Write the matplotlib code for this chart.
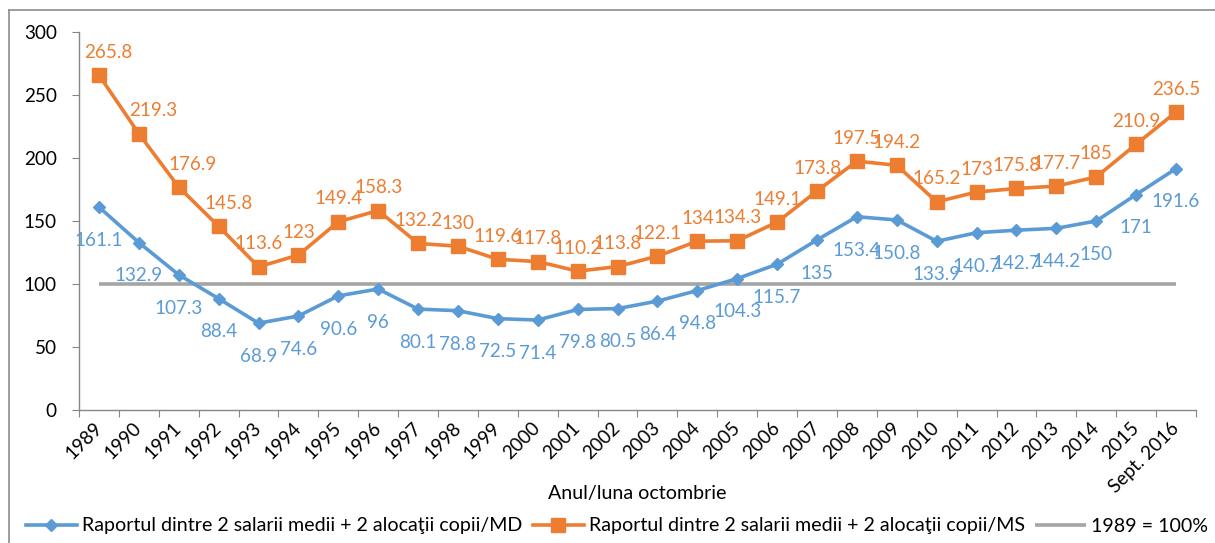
import matplotlib
matplotlib.use("Agg")
import matplotlib.pyplot as plt
from matplotlib.lines import Line2D

plt.rcParams["font.family"] = ["Lato", "DejaVu Sans"]

years = ["1989", "1990", "1991", "1992", "1993", "1994", "1995", "1996", "1997",
         "1998", "1999", "2000", "2001", "2002", "2003", "2004", "2005", "2006",
         "2007", "2008", "2009", "2010", "2011", "2012", "2013", "2014", "2015",
         "Sept. 2016"]

ratio_md = [161.1, 132.9, 107.3, 88.4, 68.9, 74.6, 90.6, 96, 80.1, 78.8, 72.5,
            71.4, 79.8, 80.5, 86.4, 94.8, 104.3, 115.7, 135, 153.4, 150.8,
            133.9, 140.7, 142.7, 144.2, 150, 171, 191.6]

ratio_ms = [265.8, 219.3, 176.9, 145.8, 113.6, 123, 149.4, 158.3, 132.2, 130,
            119.6, 117.8, 110.2, 113.8, 122.1, 134, 134.3, 149.1, 173.8, 197.5,
            194.2, 165.2, 173, 175.8, 177.7, 185, 210.9, 236.5]

baseline = [100] * len(years)

label_md = "Raportul dintre 2 salarii medii + 2 alocaţii copii/MD"
label_ms = "Raportul dintre 2 salarii medii + 2 alocaţii copii/MS"
label_base = "1989 = 100%"

BLUE = "#5B9BD5"
ORANGE = "#ED7D31"
GRAY = "#A5A5A5"
AXIS = "#868686"
FS = 13.6
FS_LEG = 14.1


def fmt(v):
    return f"{v:g}"


def main():
    W, H = 1215, 543
    fig = plt.figure(figsize=(W / 100, H / 100), dpi=100)
    ax = fig.add_axes([79 / W, 1 - 410 / H, (1196 - 79) / W, (410 - 32) / H])

    x = list(range(len(years)))
    ax.plot(x, baseline, color=GRAY, linewidth=2.6, solid_capstyle="butt",
            label=label_base, zorder=2)
    ax.plot(x, ratio_md, color=BLUE, linewidth=2.6, marker="D", markersize=6.5,
            label=label_md, zorder=3)
    ax.plot(x, ratio_ms, color=ORANGE, linewidth=2.6, marker="s", markersize=10,
            label=label_ms, zorder=4)

    # data labels: blue below, orange above (first few nudged right like the original)
    for i, v in enumerate(ratio_md):
        ax.annotate(fmt(v), (i, v), xytext=(0, -24), textcoords="offset points",
                    ha="center", va="center", color=BLUE, fontsize=FS, zorder=5)
    nudge = [7, 10, 10, 7]
    for i, v in enumerate(ratio_ms):
        dx = nudge[i] if i < len(nudge) else 0
        ax.annotate(fmt(v), (i, v), xytext=(dx, 16.5), textcoords="offset points",
                    ha="center", va="center", color=ORANGE, fontsize=FS, zorder=5)

    ax.set_xlim(-0.5, len(years) - 0.5)
    ax.set_ylim(0, 300)
    ax.set_yticks(range(0, 301, 50))

    # ticks sit between categories, labels at category centres
    ax.set_xticks([i - 0.5 for i in range(len(years) + 1)])
    ax.set_xticklabels([])
    ax.set_xticks(x, minor=True)
    ax.set_xticklabels(years, minor=True, rotation=45, ha="right", va="center",
                       fontsize=FS, rotation_mode="anchor")
    ax.tick_params(axis="x", which="minor", length=0, pad=11)
    ax.tick_params(axis="x", which="major", length=5, color=AXIS, direction="out")
    ax.tick_params(axis="y", length=5, color=AXIS, labelsize=FS, pad=11)

    for s in ["top", "right"]:
        ax.spines[s].set_visible(False)
    for s in ["left", "bottom"]:
        ax.spines[s].set_color(AXIS)
        ax.spines[s].set_linewidth(1.0)

    fig.text(637 / W, 1 - 493 / H, "Anul/luna octombrie", ha="center", va="center",
             fontsize=FS_LEG)

    handles, labels = ax.get_legend_handles_labels()
    order = [1, 2, 0]
    fig.legend([handles[k] for k in order], [labels[k] for k in order],
               loc="center", bbox_to_anchor=(617 / W, 1 - 526 / H), ncol=3,
               frameon=False, fontsize=FS_LEG, handlelength=2.6, handletextpad=0.25,
               columnspacing=0.55, borderaxespad=0, borderpad=0)

    # chart-area frame (left and top edges visible in the crop)
    fig.add_artist(Line2D([9 / W, 9 / W], [0, 1 - 10 / H], color="#8C8C8C",
                          linewidth=1.2, transform=fig.transFigure))
    fig.add_artist(Line2D([9 / W, 1], [1 - 10 / H, 1 - 10 / H], color="#8C8C8C",
                          linewidth=1.2, transform=fig.transFigure))

    fig.savefig("out.png", dpi=100)
    plt.close(fig)


if __name__ == "__main__":
    main()
